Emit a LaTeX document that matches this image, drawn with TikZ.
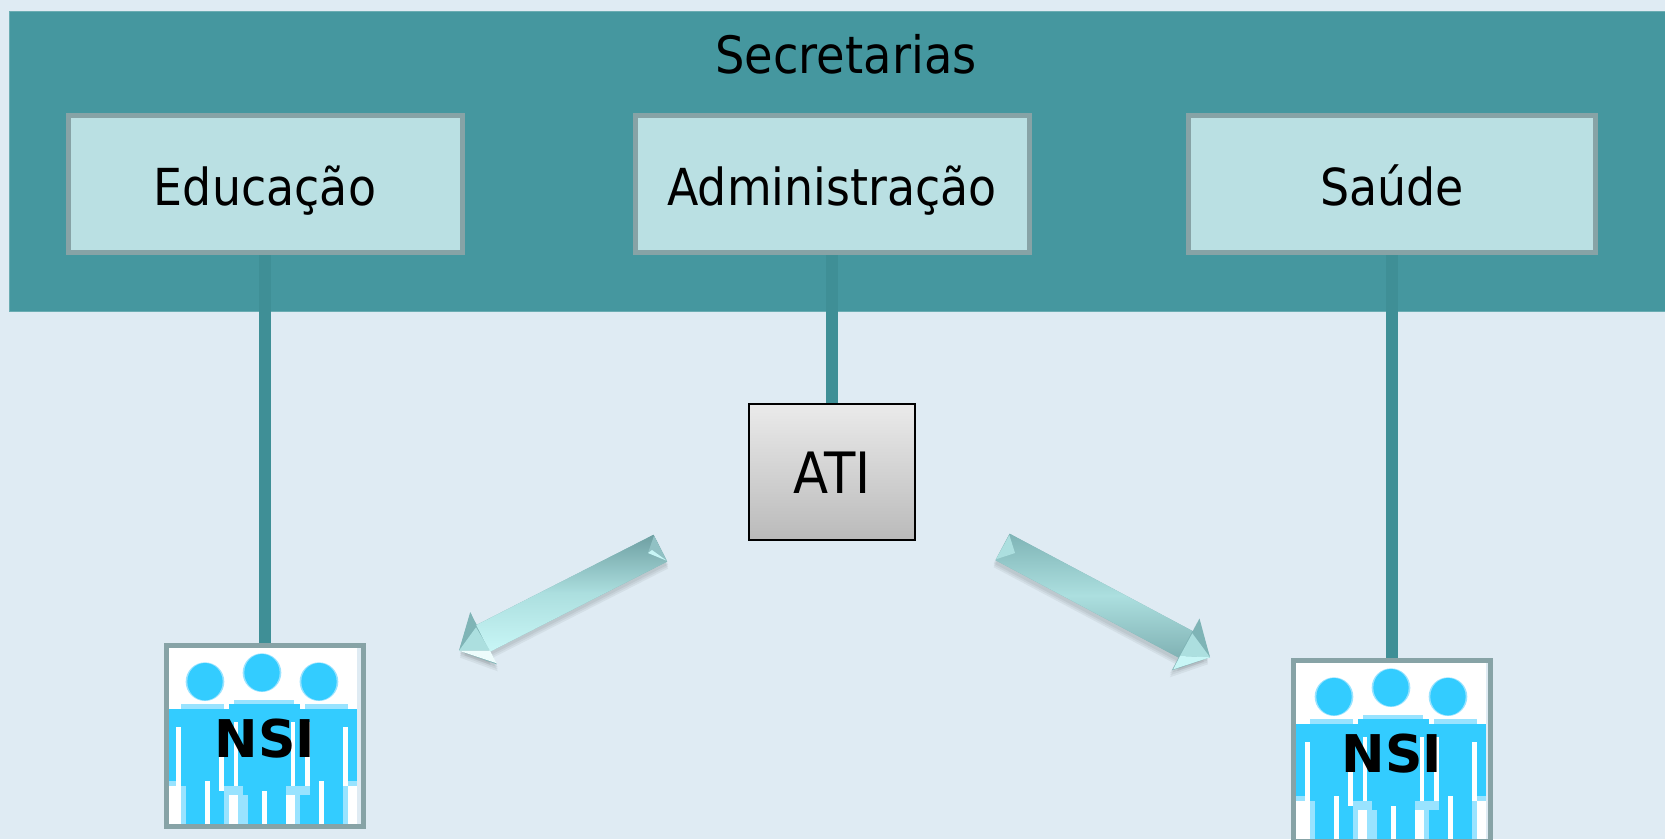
\documentclass[tikz,border=0pt]{standalone}
\usepackage{fontspec}
\setmainfont{DejaVu Sans}[FakeStretch=0.9]
\newfontfamily\nsifont{DejaVu Sans}
\usepackage{tikz}
\usetikzlibrary{%
  arrows.meta, calc, positioning
}
\usepackage{xcolor}
\definecolor{bgBlue}{HTML}{DFEBF3}
\definecolor{bandTeal}{HTML}{45979F}
\definecolor{stemTeal}{HTML}{3F8F96}
\definecolor{boxFill}{HTML}{BAE0E3}
\definecolor{boxEdge}{HTML}{87A3A6}
\definecolor{peopleBlue}{HTML}{33CCFF}
\definecolor{peopleLight}{HTML}{99E3FF}
\definecolor{arrowBase}{HTML}{7FB4B6}
\definecolor{arrowDark}{HTML}{6E9FA2}
\definecolor{arrowMid}{HTML}{ACDFDF}
\definecolor{arrowPale}{HTML}{C8F6F6}
\tikzstyle{secbox} = [%
  rectangle,
  draw=boxEdge,
  line width=5pt,
  fill=boxFill,
  minimum width=394pt,
  minimum height=137pt,
  inner sep=0pt,
  align=center,
  text height=42pt,
  text depth=0pt,
  font=\fontsize{51}{60}\selectfont
]
\tikzstyle{nsibox} = [%
  rectangle,
  draw=boxEdge,
  line width=5pt,
  fill=white,
  minimum width=197pt,
  minimum height=181pt,
  inner sep=0pt
]
\tikzset{%
  nsipeople/.pic={%
    \begin{scope}[x=0.3333pt,y=-0.3333pt]
      % Heads
      \foreach \hx/\hy in {162/185,333/158,504/185} {%
        \fill[peopleLight] (\hx,\hy) ellipse (58 and 58);
        \fill[peopleBlue] (\hx,\hy) ellipse (53 and 56);
      }
      % Bodies
      \fill[peopleLight] (90,252) rectangle (218,268);
      \fill[peopleLight] (462,252) rectangle (590,268);
      \fill[peopleLight] (250,240) rectangle (430,252);
      \fill[peopleBlue] (234,252) rectangle (447,268);
      \fill[peopleBlue] (45,267) rectangle (618,625);
      % Gaps
      \foreach \xa/\ya/\xb/\yb in {%
        45/497/90/625, 590/497/618/625, 75/320/90/497, 576/320/590/497,
        205/305/218/513, 248/305/262/513, 420/305/433/513, 462/305/477/513,
        162/483/177/625, 504/483/519/625, 333/513/348/625,
        218/525/290/625, 405/525/447/625
      } {%
        \fill[white] (\xa,\ya) rectangle (\xb,\yb);
      }
      % Soft pixels
      \foreach \xa/\ya/\xb/\yb in {%
        90/497/105/625, 576/497/590/625, 218/525/234/625, 262/525/290/625,
        433/525/447/625, 218/497/275/525, 405/497/477/525,
        45/483/75/497, 590/483/618/497
      } {%
        \fill[peopleLight] (\xa,\ya) rectangle (\xb,\yb);
      }
      \fill[bgBlue] (618,70) rectangle (640,625);
    \end{scope}
  }
}

\begin{document}
\begin{tikzpicture}[%
  x=1pt,
  y=-1pt,
  fatarrow/.style={%
    -{Triangle[length=27.5pt,width=57pt]},
    line width=30pt,
    draw=arrowBase
  },
  fatshadow/.style={%
    -{Triangle[length=27.5pt,width=57pt]},
    line width=30pt,
    draw=black,
    opacity=0.05
  },
  fatbody/.style={%
    rectangle,
    minimum height=30pt,
    inner sep=0pt,
    outer sep=0pt
  },
  nsitext/.style={%
    font=\nsifont\bfseries\fontsize{52}{60}\selectfont,
    inner sep=0pt
  },
  stem/.style={draw=stemTeal,line width=12pt}
]

  \useasboundingbox (0,0) rectangle (1665,839);
  \fill[bgBlue] (0,0) rectangle (1665,839);

  % Band and boxes
  \node[rectangle,fill=bandTeal,draw=bandTeal!80!white,line width=1pt,minimum width=1680pt,minimum height=300pt,inner sep=0pt] (Band) at (849,161) {};
  \node[font=\fontsize{51.5}{60}\selectfont,inner sep=0pt] (Secretarias) at (846,54) {Secretarias};
  \node[secbox] (BoxEdu) at (265,184) {Educação};
  \node[secbox] (BoxAdm) at (832,184) {Administração};
  \node[secbox,minimum width=407pt] (BoxSau) at (1392,184) {Saúde};

  \node[rectangle,draw=black,line width=1.5pt,top color=black!8,bottom color=black!27,minimum width=166pt,minimum height=136pt,inner sep=0pt,text height=43pt,text depth=0pt,font=\fontsize{57}{60}\selectfont,below=148pt of BoxAdm] (ATI) {ATI};

  \node[nsibox,below=388pt of BoxEdu] (NSIL) {};
  \node[nsibox,below=403pt of BoxSau] (NSIR) {};
  \pic at ([shift={(-13,-23)}]NSIL.north west) {nsipeople};
  \pic at ([shift={(-11,-23)}]NSIR.north west) {nsipeople};
  \node[nsibox,fill=none,below=388pt of BoxEdu] (NSILframe) {};
  \node[nsibox,fill=none,below=403pt of BoxSau] (NSIRframe) {};
  \node[nsitext,below=95.5pt of NSIL.north,anchor=center] (NSILtext) {NSI};
  \node[nsitext,below=95.5pt of NSIR.north,anchor=center] (NSIRtext) {NSI};

  % Stems
  \draw[stem] (BoxEdu.south) -- (NSIL.north);
  \draw[stem] (BoxAdm.south) -- (ATI.north);
  \draw[stem] (BoxSau.south) -- (NSIR.north);

  % Left arrow
  \coordinate (TailL) at (660.3,548.2);
  \coordinate (TipL) at (459,650.7);
  \foreach \sh in {3,5,7} {%
    \draw[fatshadow] ([shift={(1,\sh)}]TailL) -- ([shift={(1,\sh)}]TipL);
  }
  \draw[fatarrow] (TailL) -- (TipL);
  \node[fatbody,minimum width=199pt,rotate=207,bottom color=arrowPale,top color=arrowDark,middle color=arrowMid] (BodyL) at ($(TailL)!0.44!(TipL)$) {};
  \fill[arrowBase!70!boxFill] (654,535.7) -- (666.7,560.7) -- (648,553) -- cycle;
  \fill[arrowPale] (666.7,560.7) -- (648,553) -- (652,550) -- cycle;
  \fill[arrowBase] (TipL) -- (470.7,612.7) -- (476,627.3) -- cycle;
  \fill[arrowMid] (TipL) -- (476,627.3) -- (490,650.7) -- cycle;
  \fill[white!70!arrowPale] (TipL) -- (490,650.7) -- (496.7,663.3) -- cycle;

  % Right arrow
  \coordinate (TailR) at (1002.7,547);
  \coordinate (TipR) at (1210,657.3);
  \foreach \sh in {3,5,7} {%
    \draw[fatshadow] ([shift={(-2,\sh)}]TailR) -- ([shift={(-2,\sh)}]TipR);
  }
  \draw[fatarrow] (TailR) -- (TipR);
  \node[fatbody,minimum width=207pt,rotate=-28,bottom color=arrowDark!70!arrowMid,top color=arrowBase,middle color=arrowMid] (BodyR) at ($(TailR)!0.44!(TipR)$) {};
  \fill[arrowMid] (1009.3,535) -- (996,559.3) -- (1015,553) -- cycle;
  \fill[arrowBase] (TipR) -- (1199,623.3) -- (1192.3,633.3) -- cycle;
  \fill[arrowMid] (TipR) -- (1192.3,633.3) -- (1180,656) -- cycle;
  \fill[arrowPale] (TipR) -- (1180,656) -- (1173.3,669.3) -- cycle;

\end{tikzpicture}
\end{document}
